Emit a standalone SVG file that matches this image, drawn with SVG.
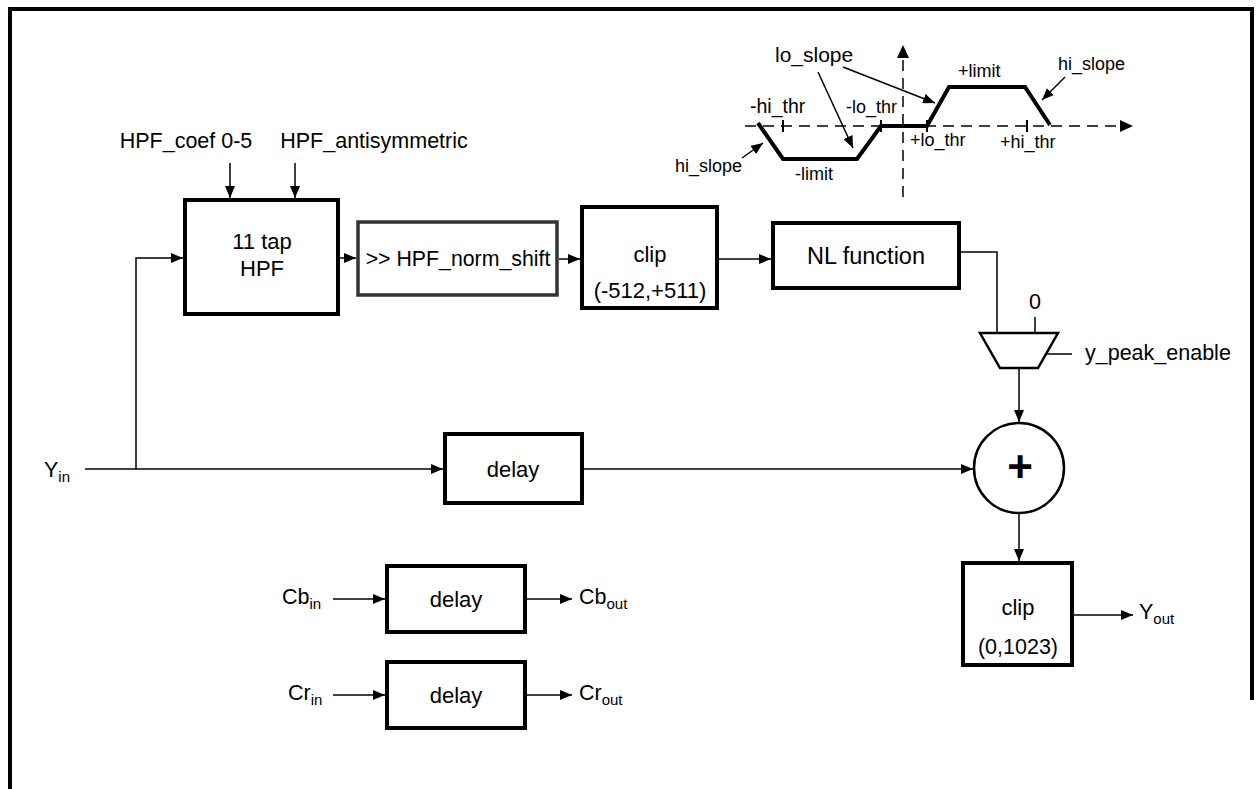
<svg xmlns="http://www.w3.org/2000/svg" width="1257" height="789" viewBox="0 0 1257 789">
<defs>
<marker id="ah" viewBox="0 0 12 10" refX="12" refY="5" markerWidth="12" markerHeight="10" markerUnits="userSpaceOnUse" orient="auto">
<path d="M0,0 L12,5 L0,10 Z" fill="#000"/>
</marker>
</defs>
<style>
text{font-family:"Liberation Sans",Arial,sans-serif;fill:#000}
.lbl{font-size:21.5px}
.box{font-size:22px;text-anchor:middle}
.g{font-size:18px}
.sub{font-size:15px}
.blk{fill:#fff;stroke:#000;stroke-width:4}
.w{fill:none;stroke:#000;stroke-width:1.5}
.wa{fill:none;stroke:#000;stroke-width:1.5;marker-end:url(#ah)}
.ax{fill:none;stroke:#000;stroke-width:1.5;stroke-dasharray:11 7}
.curve{fill:none;stroke:#000;stroke-width:4;stroke-linejoin:miter}
</style>
<rect width="1257" height="789" fill="#fff"/>
<path d="M10,789 V9 H1252 V700" fill="none" stroke="#000" stroke-width="4"/>

<g id="graph">
<line class="ax" x1="903" y1="197" x2="903" y2="57"/>
<path d="M897,58 L903,45 L909,58 Z" fill="#000"/>
<line class="ax" x1="745" y1="126" x2="1121" y2="126"/>
<path d="M1120,120 L1133,126 L1120,132 Z" fill="#000"/>
<path class="curve" d="M758,123 L783,159 L857,159 L881,126 L927,126 L949,87 L1025,87 L1050,125"/>
<path d="M783,120 V132 M881,120 V132 M927,120 V132 M1027,120 V132" stroke="#000" stroke-width="2"/>
<text class="g" x="750" y="113" style="font-size:19.5px">-hi_thr</text>
<text class="g" x="775" y="62" style="font-size:21px">lo_slope</text>
<text class="g" x="846" y="113">-lo_thr</text>
<text class="g" x="958" y="77">+limit</text>
<text class="g" x="1058" y="70">hi_slope</text>
<text class="g" x="910" y="146">+lo_thr</text>
<text class="g" x="1000" y="148">+hi_thr</text>
<text class="g" x="675" y="172">hi_slope</text>
<text class="g" x="795" y="180">-limit</text>
<line class="wa" x1="818" y1="72" x2="853" y2="148"/>
<line class="wa" x1="843" y1="67" x2="935" y2="103"/>
<line class="wa" x1="1065" y1="77" x2="1042" y2="100"/>
<line class="wa" x1="742" y1="158" x2="763" y2="143"/>
</g>

<g id="connectors">
<line class="wa" x1="230" y1="163" x2="230" y2="198"/>
<line class="wa" x1="295" y1="163" x2="295" y2="198"/>
<polyline class="wa" points="85,469 443,469"/>
<polyline class="wa" points="136,469 136,258 183,258"/>
<line class="wa" x1="340" y1="258" x2="356" y2="258"/>
<line class="wa" x1="559" y1="259" x2="580" y2="259"/>
<line class="wa" x1="719" y1="259" x2="771" y2="259"/>
<polyline class="w" points="961,252 997,252 997,333"/>
<line class="w" x1="1035" y1="317" x2="1035" y2="333"/>
<line class="w" x1="1047" y1="354" x2="1072" y2="354"/>
<line class="wa" x1="1019" y1="368" x2="1019" y2="422"/>
<line class="wa" x1="584" y1="469" x2="973" y2="469"/>
<line class="wa" x1="1019" y1="514" x2="1019" y2="561"/>
<line class="wa" x1="1074" y1="615" x2="1133" y2="615"/>
<line class="wa" x1="333" y1="599" x2="385" y2="599"/>
<line class="wa" x1="527" y1="599" x2="572" y2="599"/>
<line class="wa" x1="333" y1="695" x2="385" y2="695"/>
<line class="wa" x1="527" y1="695" x2="572" y2="695"/>
</g>

<g id="labels">
<text class="lbl" x="186" y="148" text-anchor="middle">HPF_coef 0-5</text>
<text class="lbl" x="374" y="148" text-anchor="middle">HPF_antisymmetric</text>
<text class="lbl" x="44" y="477">Y<tspan class="sub" dy="5">in</tspan></text>
<text class="lbl" x="282" y="604">Cb<tspan class="sub" dy="5">in</tspan></text>
<text class="lbl" x="288" y="700">Cr<tspan class="sub" dy="5">in</tspan></text>
<text class="lbl" x="579" y="604">Cb<tspan class="sub" dy="5">out</tspan></text>
<text class="lbl" x="579" y="700">Cr<tspan class="sub" dy="5">out</tspan></text>
<text class="lbl" x="1139" y="619">Y<tspan class="sub" dy="5">out</tspan></text>
<text class="lbl" x="1035" y="309" text-anchor="middle">0</text>
<text class="lbl" x="1085" y="360">y_peak_enable</text>
</g>

<g id="hpf">
<rect class="blk" x="185" y="200" width="153" height="114"/>
<text class="box" x="262" y="249">11 tap</text>
<text class="box" x="262" y="276">HPF</text>
</g>
<g id="normshift">
<rect x="358" y="222" width="199" height="73" fill="#fff" stroke="#333" stroke-width="3.5"/>
<text class="box" x="458" y="266" style="font-size:21.3px">&gt;&gt; HPF_norm_shift</text>
</g>
<g id="clip1">
<rect class="blk" x="582" y="207" width="135" height="101"/>
<text class="box" x="650" y="262">clip</text>
<text class="box" x="650" y="298">(-512,+511)</text>
</g>
<g id="nl">
<rect class="blk" x="773" y="223" width="186" height="65"/>
<text class="box" x="866" y="264" style="font-size:23.5px">NL function</text>
</g>
<g id="mux">
<path d="M980,333 L1058,333 L1038,368 L1000,368 Z" fill="#fff" stroke="#000" stroke-width="2.5"/>
</g>
<g id="adder">
<circle cx="1019" cy="468" r="45" fill="#fff" stroke="#000" stroke-width="2.5"/>
<text x="1020" y="482" text-anchor="middle" style="font-size:44px;font-weight:bold">+</text>
</g>
<g id="clip2">
<rect class="blk" x="963" y="563" width="109" height="102"/>
<text class="box" x="1018" y="615">clip</text>
<text class="box" x="1018" y="654" style="font-size:21.5px">(0,1023)</text>
</g>
<g id="ydelay">
<rect class="blk" x="445" y="434" width="137" height="69"/>
<text class="box" x="513" y="477">delay</text>
</g>
<g id="cbdelay">
<rect class="blk" x="387" y="566" width="138" height="66"/>
<text class="box" x="456" y="607">delay</text>
</g>
<g id="crdelay">
<rect class="blk" x="387" y="662" width="138" height="66"/>
<text class="box" x="456" y="703">delay</text>
</g>
</svg>
